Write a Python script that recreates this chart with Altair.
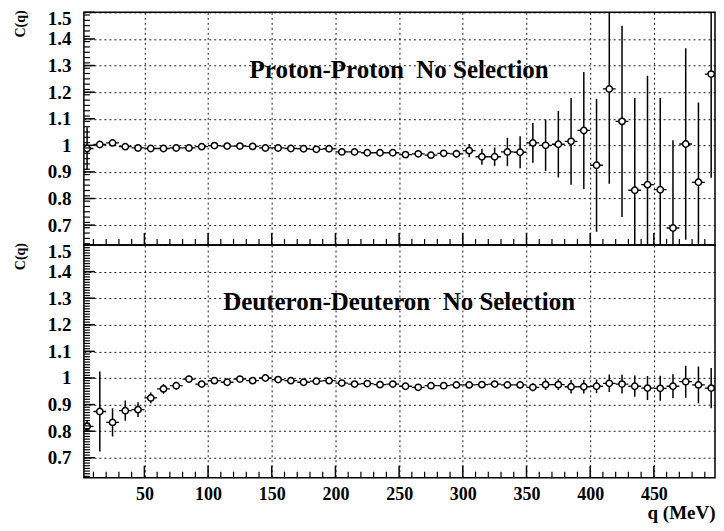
import altair as alt
import numpy as np
import pandas as pd

# ---------------- data ----------------
q = [5, 15, 25, 35, 45, 55, 65, 75, 85, 95,
     105, 115, 125, 135, 145, 155, 165, 175, 185, 195,
     205, 215, 225, 235, 245, 255, 265, 275, 285, 295,
     305, 315, 325, 335, 345, 355, 365, 375, 385, 395,
     405, 415, 425, 435, 445, 455, 465, 475, 485, 495]

pp_c = [0.988, 1.003, 1.009, 0.995, 0.990, 0.988, 0.988, 0.990, 0.990, 0.995,
        0.999, 0.997, 0.997, 0.996, 0.990, 0.990, 0.988, 0.987, 0.985, 0.987,
        0.975, 0.975, 0.972, 0.972, 0.972, 0.965, 0.968, 0.963, 0.970, 0.968,
        0.980, 0.957, 0.957, 0.975, 0.974, 1.009, 1.000, 1.004, 1.015, 1.056,
        0.925, 1.212, 1.090, 0.831, 0.852, 0.833, 0.689, 1.005, 0.861, 1.268]
pp_err = [0.080, 0.008, 0.007, 0.005, 0.005, 0.005, 0.005, 0.005, 0.005, 0.005,
          0.005, 0.005, 0.005, 0.005, 0.005, 0.005, 0.005, 0.005, 0.006, 0.006,
          0.007, 0.007, 0.007, 0.008, 0.008, 0.009, 0.010, 0.010, 0.012, 0.015,
          0.025, 0.030, 0.035, 0.053, 0.060, 0.075, 0.097, 0.125, 0.163, 0.220,
          0.250, 0.357, 0.360, 0.347, 0.410, 0.345, 0.330, 0.360, 0.300, 0.390]

dd_c = [0.818, 0.874, 0.833, 0.877, 0.881, 0.925, 0.959, 0.971, 0.996, 0.977,
        0.990, 0.984, 0.996, 0.990, 1.000, 0.994, 0.990, 0.984, 0.988, 0.990,
        0.981, 0.977, 0.979, 0.975, 0.977, 0.969, 0.965, 0.971, 0.971, 0.974,
        0.974, 0.975, 0.977, 0.974, 0.974, 0.965, 0.975, 0.975, 0.967, 0.967,
        0.969, 0.980, 0.977, 0.969, 0.962, 0.961, 0.969, 0.986, 0.974, 0.962]
dd_err = [0.020, 0.150, 0.053, 0.038, 0.028, 0.020, 0.018, 0.015, 0.013, 0.010,
          0.010, 0.010, 0.010, 0.010, 0.010, 0.010, 0.010, 0.010, 0.010, 0.010,
          0.010, 0.010, 0.010, 0.010, 0.010, 0.010, 0.010, 0.010, 0.010, 0.010,
          0.010, 0.010, 0.011, 0.012, 0.013, 0.015, 0.020, 0.020, 0.025, 0.025,
          0.025, 0.033, 0.035, 0.040, 0.045, 0.047, 0.045, 0.060, 0.069, 0.076]

x_labels = [50, 100, 150, 200, 250, 300, 350, 400, 450]
x_minor = [10, 20, 30, 40, 60, 70, 80, 90, 110, 120, 130, 140, 160, 170, 180, 190,
           210, 220, 230, 240, 260, 270, 280, 290, 310, 320, 330, 340, 360, 370,
           380, 390, 410, 420, 430, 440, 460, 470, 480, 490]
y_labels = [0.7, 0.8, 0.9, 1.0, 1.1, 1.2, 1.3, 1.4, 1.5]

titles = ["Proton-Proton\u00a0\u00a0No Selection", "Deuteron-Deuteron\u00a0\u00a0No Selection"]
y_title = "C(q)"
x_title = "q (MeV)"

# ---------------- style ----------------
W, H = 632, 233
FONT = "Liberation Serif"
xscale = alt.Scale(domain=[2.5, 498], nice=False, zero=False)
yscale = alt.Scale(domain=[0.625, 1.5], nice=False, zero=False)


def panel(c, err, title, bottom, yminor_step):
    df = pd.DataFrame({"q": q, "c": c})
    df["lo"] = df["c"] - np.array(err)
    df["hi"] = df["c"] + np.array(err)
    df["ql"] = df["q"] - 5
    df["qr"] = df["q"] + 5

    xt = x_title if bottom else None
    if bottom:
        xaxis = alt.Axis(values=x_labels, grid=True, ticks=False, domain=False,
                         labels=True, labelPadding=8, labelFontSize=18,
                         title=xt, titleAlign="right", titleBaseline="top",
                         titleFontSize=19, titleX=W, titleY=26, titleAngle=0)
    else:
        xaxis = alt.Axis(values=x_labels, grid=True, ticks=False, domain=False,
                         labels=False, title=None)
    yaxis = alt.Axis(values=y_labels, grid=True, ticks=False, domain=False,
                     labelPadding=13, labelFontSize=19, format=".1~f",
                     labelFlush=True, labelFlushOffset=3, labelOverlap=False,
                     title=None)

    def X(f):
        return alt.X(f, scale=xscale, axis=xaxis, title=xt)

    def Y(f):
        return alt.Y(f, scale=yscale, axis=yaxis, title=None)

    hbar = alt.Chart(df).mark_rule(color="black", strokeWidth=1.3, clip=True).encode(
        x=X("ql:Q"), x2="qr:Q", y=Y("c:Q"))
    vbar = alt.Chart(df).mark_rule(color="black", strokeWidth=1.5, clip=True).encode(
        x=X("q:Q"), y=Y("lo:Q"), y2="hi:Q")
    pts = alt.Chart(df).mark_point(shape="circle", fill="white", fillOpacity=1,
                                   stroke="black", strokeWidth=1.5, size=40,
                                   opacity=1, clip=True).encode(
        x=X("q:Q"), y=Y("c:Q"))

    # tick marks (inside the frame)
    xt_minor = alt.Chart(pd.DataFrame({"t": x_minor})).mark_rule(color="black", strokeWidth=1.2).encode(
        x=X("t:Q"), y=alt.value(H), y2=alt.value(H - 6))
    xt_major = alt.Chart(pd.DataFrame({"t": x_labels})).mark_rule(color="black", strokeWidth=1.5).encode(
        x=X("t:Q"), y=alt.value(H), y2=alt.value(H - 12))
    ymin_vals = [round(v, 2) for v in np.arange(0.63, 1.5, yminor_step)]
    yt_minor = alt.Chart(pd.DataFrame({"t": ymin_vals})).mark_rule(color="black", strokeWidth=1.2).encode(
        y=Y("t:Q"), x=alt.value(0), x2=alt.value(6))
    yt_major = alt.Chart(pd.DataFrame({"t": y_labels})).mark_rule(color="black", strokeWidth=1.5).encode(
        y=Y("t:Q"), x=alt.value(0), x2=alt.value(11))

    txt = alt.Chart(pd.DataFrame({"q": [250], "c": [1.285], "t": [title]})).mark_text(
        font=FONT, fontWeight="bold", fontSize=25, color="black", baseline="middle", align="center"
    ).encode(x=X("q:Q"), y=Y("c:Q"), text="t:N")

    ytxt = alt.Chart(pd.DataFrame({"t": [y_title]})).mark_text(
        font=FONT, fontWeight="bold", fontSize=14, color="black", angle=270,
        align="right", baseline="middle"
    ).encode(x=alt.value(-63), y=alt.value(-2), text="t:N")

    return alt.layer(hbar, vbar, pts, xt_minor, xt_major, yt_minor, yt_major, txt, ytxt).properties(
        width=W, height=H)


top = panel(pp_c, pp_err, titles[0], False, 0.02)
bot = panel(dd_c, dd_err, titles[1], True, 0.01)

chart = alt.vconcat(top, bot, spacing=0, bounds="flush").properties(
    padding={"left": 5, "top": 0, "right": 0, "bottom": 0}
).configure_view(
    stroke="black", strokeWidth=1.5
).configure_axis(
    labelFont=FONT, labelFontWeight="bold", labelColor="black",
    titleFont=FONT, titleFontWeight="bold", titleColor="black",
    gridColor="black", gridDash=[2, 3], gridWidth=1, gridOpacity=0.9,
).configure_concat(spacing=0)

chart.save("out.html", embed_options={"renderer": "svg", "actions": False})
